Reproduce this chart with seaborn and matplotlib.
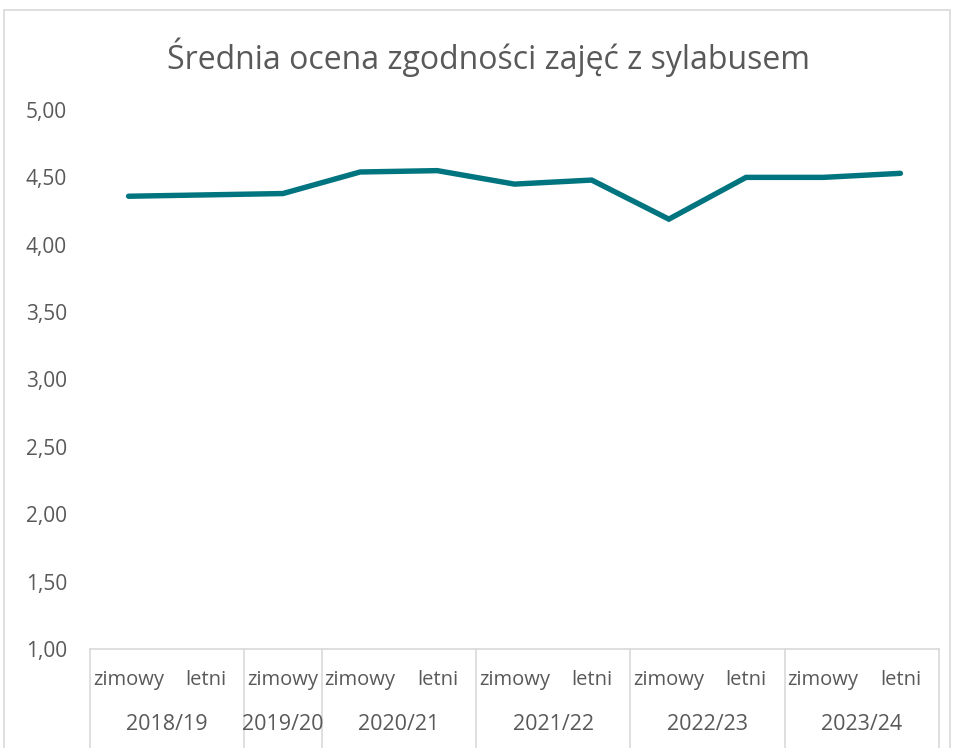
import matplotlib
matplotlib.use("Agg")
import matplotlib.pyplot as plt
import matplotlib.transforms as mtransforms
from matplotlib.patches import Rectangle
import seaborn as sns
import pandas as pd

# data
years = ["2018/19", "2019/20", "2020/21", "2021/22", "2022/23", "2023/24"]
semesters = [["zimowy", "letni"], ["zimowy"], ["zimowy", "letni"],
             ["zimowy", "letni"], ["zimowy", "letni"], ["zimowy", "letni"]]
scores = [4.36, 4.37, 4.38, 4.54, 4.55, 4.45, 4.48, 4.19, 4.50, 4.50, 4.53]
yticks = [1.0, 1.5, 2.0, 2.5, 3.0, 3.5, 4.0, 4.5, 5.0]

title = "Średnia ocena zgodności zajęć z sylabusem"
line_color = "#00747F"
text_color = "#595959"
grid_color = "#D9D9D9"

sns.set_theme(style="white")
plt.rcParams['font.family'] = ['Open Sans', 'DejaVu Sans']

labels = [s for sem in semesters for s in sem]
df = pd.DataFrame({"pos": range(len(scores)), "score": scores, "sem": labels})

W, H = 955, 748
fig = plt.figure(figsize=(W / 100, H / 100), dpi=100)
ax = fig.add_axes([90 / W, (H - 649) / H, (939 - 90) / W, (649 - 110) / H])

sns.lineplot(data=df, x="pos", y="score", ax=ax, color=line_color,
             linewidth=3.9, solid_capstyle="round", solid_joinstyle="miter")

ax.set_xlim(-0.5, len(scores) - 0.5)
ax.set_ylim(1, 5)
ax.set_yticks(yticks)
ax.set_yticklabels([f"{v:.2f}".replace(".", ",") for v in yticks],
                   fontsize=15, color=text_color)
ax.tick_params(axis="y", length=0, pad=16.5)
ax.set_xticks([])
ax.set_xlabel("")
ax.set_ylabel("")
for s in ["left", "right", "top"]:
    ax.spines[s].set_visible(False)
ax.spines["bottom"].set_color(grid_color)
ax.spines["bottom"].set_linewidth(1.2)

# multi-level category axis
trans = mtransforms.blended_transform_factory(ax.transData, fig.transFigure)
y_sem = (H - 680) / H
y_year = (H - 725) / H
i = 0
bounds = [-0.5]
for yr, sem in zip(years, semesters):
    start = i
    for s in sem:
        ax.text(i, y_sem, s, transform=trans, ha="center", va="center",
                fontsize=14.5, color=text_color)
        i += 1
    ax.text((start + i - 1) / 2, y_year, yr, transform=trans, ha="center",
            va="center", fontsize=15.5, color=text_color)
    bounds.append(i - 0.5)
for b in bounds:
    ax.plot([b, b], [0, (H - 649) / H], transform=trans, color=grid_color,
            linewidth=1.2, clip_on=False)

# title
fig.text(488 / W, (H - 57) / H, title, ha="center", va="center",
         fontsize=23, color=text_color)

# chart border
fig.patches.append(Rectangle((4 / W, -0.01), (950 - 4) / W, (H - 10) / H + 0.01,
                             transform=fig.transFigure, fill=False,
                             edgecolor=grid_color, linewidth=1.2))

fig.savefig("out.png", dpi=100)
